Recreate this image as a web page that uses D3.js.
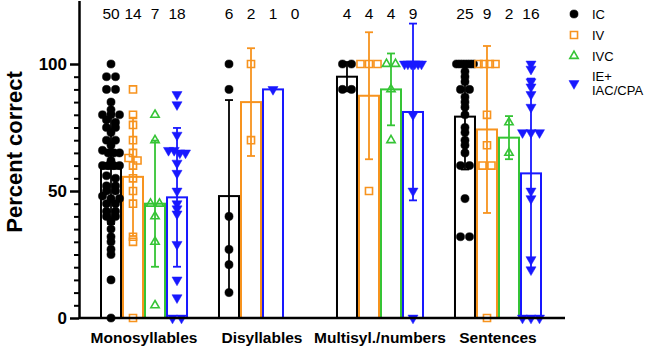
<!DOCTYPE html>
<html>
<head>
<meta charset="utf-8">
<script src="https://cdn.jsdelivr.net/npm/d3@7"></script>
<style>
  body { margin: 0; background: #fff; }
  text { font-family: Arial, "Liberation Sans", sans-serif; }
</style>
</head>
<body>
<div id="chart"></div>
<script>
// Data
var categories   = [ "Monosyllables", "Disyllables", "Multisyl./numbers", "Sentences" ];
var seriesNames  = [ "IC", "IV", "IVC", "IE+" ];
var legendLines  = [ ["IC"], ["IV"], ["IVC"], ["IE+", "IAC/CPA"] ];
var countLabels  = [ ["50","14","7","18"], ["6","2","1","0"], ["4","4","4","9"], ["25","9","2","16"] ];
var yTicks       = [ 0, 50, 100 ];

var icScores  = [
	[ 100, 95, 95, 90, 90, 85, 82, 80, 80, 80, 78, 77, 75, 75, 73, 70, 70, 68, 66, 65,
	  65, 65, 62, 60, 60, 60, 60, 56, 55, 52, 52, 50, 50, 48, 47, 47, 45, 45, 42, 42,
	  40, 40, 38, 35, 32, 30, 27, 25, 15, 0 ],
	[ 100, 90, 40, 27, 21, 10 ],
	[ 100, 100, 90, 90 ],
	[ 100, 100, 100, 100, 100, 100, 97, 95, 93, 90, 90, 87, 85, 83, 80, 75, 73, 70, 68, 65,
	  60, 60, 47, 32, 32 ]
];
var ivScores  = [
	[ 90, 80, 76, 70, 65, 63, 62, 60, 55, 50, 45, 32, 30, 0 ],
	[ 100, 70 ],
	[ 100, 100, 100, 50 ],
	[ 100, 100, 100, 100, 80, 68, 60, 60, 0 ]
];
var ivcScores = [
	[ 80, 70, 45, 45, 40, 30, 5 ],
	[],
	[ 100, 100, 90, 70 ],
	[ 77, 65 ]
];
var ieScores  = [
	[ 88, 84, 72, 66, 66, 65, 65, 61, 57, 50, 45, 43, 41, 29, 15, 8, 0, 0 ],
	[ 90 ],
	[ 100, 100, 100, 100, 100, 100, 80, 50, 0 ],
	[ 100, 98, 93, 91, 88, 83, 73, 73, 73, 50, 47, 23, 19, 0, 0, 0 ]
];
var allScores = [ icScores, ivScores, ivcScores, ieScores ];

var colors    = [ "#000000", "#f7931e", "#35c435", "#1818ff" ];

var chart_width  = 645;
var chart_height = 348;

// Scales
var y  = d3.scaleLinear().domain( [0, 125] ).range( [318, 0.5] );
var x0 = d3.scaleBand().domain( categories ).range( [101, 541] ).paddingInner( 0.271 ).paddingOuter( 0 );
var x1 = d3.scaleBand().domain( [0, 1, 2, 3] ).range( [0, x0.bandwidth()] ).paddingInner( 0.0909 );

// Symbols
var symbols = [
	{ type: d3.symbolCircle,   size: 52, fill: true,  rot: 0 },
	{ type: d3.symbolSquare,   size: 50, fill: false, rot: 0 },
	{ type: d3.symbolTriangle, size: 30, fill: false, rot: 0 },
	{ type: d3.symbolTriangle, size: 44, fill: true,  rot: 180 }
];

var svg = d3.select( "#chart" )
	.append( "svg" )
	.attr( "width", chart_width )
	.attr( "height", chart_height );

// Build bar records; empty series give up their slot
var bars = [];
categories.forEach( function( cat, ci ){
	var slot = 0;
	allScores.forEach( function( s, si ){
		var vals = s[ci];
		if ( !vals.length ) return;
		bars.push({
			cat: cat, series: si, slot: slot, vals: vals,
			mean: d3.mean( vals ),
			sd: vals.length > 1 ? d3.deviation( vals ) : 0
		});
		slot++;
	});
});

// Bars
svg.selectAll( "rect.bar" )
	.data( bars )
	.enter()
	.append( "rect" )
	.attr( "class", "bar" )
	.attr( "x", d => x0(d.cat) + x1(d.slot) )
	.attr( "y", d => y(d.mean) )
	.attr( "width", x1.bandwidth() )
	.attr( "height", d => y(0) - y(d.mean) )
	.attr( "fill", "white" )
	.attr( "stroke", d => colors[d.series] )
	.attr( "stroke-width", 2 );

// Error bars (SD)
var errs = svg.selectAll( "g.err" )
	.data( bars.filter( d => d.sd > 0 ) )
	.enter()
	.append( "g" )
	.attr( "class", "err" )
	.attr( "stroke", d => colors[d.series] )
	.attr( "stroke-width", 1.8 );
var cx = d => x0(d.cat) + x1(d.slot) + x1.bandwidth() / 2;
errs.append( "line" )
	.attr( "x1", cx ).attr( "x2", cx )
	.attr( "y1", d => y( d.mean + d.sd ) )
	.attr( "y2", d => y( Math.max( 0, d.mean - d.sd ) ) );
errs.append( "line" )
	.attr( "x1", d => cx(d) - 4 ).attr( "x2", d => cx(d) + 4 )
	.attr( "y1", d => y( d.mean + d.sd ) ).attr( "y2", d => y( d.mean + d.sd ) );
errs.append( "line" )
	.attr( "x1", d => cx(d) - 4 ).attr( "x2", d => cx(d) + 4 )
	.attr( "y1", d => y( d.mean - d.sd ) ).attr( "y2", d => y( d.mean - d.sd ) )
	.attr( "display", d => d.mean - d.sd > 0 ? null : "none" );

// Scatter points, spread sideways in rows like a column scatter
function spread( bar ){
	var pts = bar.vals.map( v => ({ v: v, py: y(v) }) ).sort( (a, b) => a.py - b.py );
	var rows = [], cur = [];
	pts.forEach( function( p ){
		if ( cur.length && p.py - cur[0].py > 5 ) { rows.push( cur ); cur = []; }
		cur.push( p );
	});
	if ( cur.length ) rows.push( cur );
	var c = cx( bar );
	rows.forEach( function( r ){
		var k = r.length;
		var step = k > 1 ? Math.min( 9, 17 / (k - 1) ) : 0;
		r.forEach( function( p, i ){ p.px = c + ( i - (k - 1) / 2 ) * step; p.series = bar.series; });
	});
	return pts;
}

var points = [];
bars.forEach( b => { points = points.concat( spread( b ) ); } );

svg.selectAll( "path.pt" )
	.data( points )
	.enter()
	.append( "path" )
	.attr( "class", "pt" )
	.attr( "d", d => d3.symbol().type( symbols[d.series].type ).size( symbols[d.series].size )() )
	.attr( "transform", d => "translate(" + d.px + "," + d.py + ") rotate(" + symbols[d.series].rot + ")" )
	.attr( "fill", d => symbols[d.series].fill ? colors[d.series] : "none" )
	.attr( "stroke", d => colors[d.series] )
	.attr( "stroke-width", d => symbols[d.series].fill ? 0.5 : 1.6 );

// Y axis
var yAxis = svg.append( "g" )
	.attr( "transform", "translate(79,0)" )
	.call( d3.axisLeft( y ).tickValues( yTicks ).tickSize( 9 ).tickSizeOuter( 0 ).tickPadding( 3 ) );
yAxis.select( ".domain" ).attr( "stroke-width", 2.5 );
yAxis.selectAll( ".tick line" ).attr( "stroke-width", 2.5 );
yAxis.selectAll( ".tick text" )
	.attr( "font-size", 17 ).attr( "font-weight", "bold" ).attr( "font-family", "Arial, 'Liberation Sans', sans-serif" )
	.attr( "fill", "#000" );

var minor = svg.append( "g" )
	.attr( "transform", "translate(79,0)" )
	.call( d3.axisLeft( y ).tickValues( d3.range( 5, 100, 5 ).filter( v => v !== 50 ) ).tickSize( 5 ).tickSizeOuter( 0 ).tickFormat( "" ) );
minor.select( ".domain" ).remove();
minor.selectAll( ".tick line" ).attr( "stroke-width", 2 );

// X axis line
svg.append( "line" )
	.attr( "x1", 79 ).attr( "x2", 565 )
	.attr( "y1", y(0) ).attr( "y2", y(0) )
	.attr( "stroke", "#000" ).attr( "stroke-width", 2.5 );

// Category labels
svg.selectAll( "text.cat" )
	.data( categories )
	.enter()
	.append( "text" )
	.attr( "class", "cat" )
	.attr( "x", d => x0(d) + x0.bandwidth() / 2 )
	.attr( "y", 343 )
	.attr( "text-anchor", "middle" )
	.attr( "font-size", 15.5 )
	.attr( "font-weight", "bold" )
	.text( d => d );

// n labels
categories.forEach( function( cat, ci ){
	svg.selectAll( null )
		.data( countLabels[ci] )
		.enter()
		.append( "text" )
		.attr( "x", (d, i) => x0(cat) + x1(i) + x1.bandwidth() / 2 )
		.attr( "y", 18.5 )
		.attr( "text-anchor", "middle" )
		.attr( "font-size", 15.5 )
		.text( d => d );
});

// Y title
svg.append( "text" )
	.attr( "transform", "translate(22,152) rotate(-90)" )
	.attr( "text-anchor", "middle" )
	.attr( "font-size", 22 )
	.attr( "font-weight", "bold" )
	.text( "Percent correct" );

// Legend
var legendY = [ 14, 35, 56, 83.5 ];
var legend = svg.selectAll( "g.legend" )
	.data( seriesNames )
	.enter()
	.append( "g" )
	.attr( "class", "legend" )
	.attr( "transform", (d, i) => "translate(574," + legendY[i] + ")" );
legend.append( "path" )
	.attr( "d", (d, i) => d3.symbol().type( symbols[i].type ).size( symbols[i].size )() )
	.attr( "transform", (d, i) => "rotate(" + symbols[i].rot + ")" )
	.attr( "fill", (d, i) => symbols[i].fill ? colors[i] : "none" )
	.attr( "stroke", (d, i) => colors[i] )
	.attr( "stroke-width", (d, i) => symbols[i].fill ? 0.5 : 1.6 );
legend.each( function( d, i ){
	var lines = legendLines[i];
	var g = d3.select( this );
	lines.forEach( function( t, j ){
		g.append( "text" )
			.attr( "x", 18 )
			.attr( "y", ( j - (lines.length - 1) / 2 ) * 13.5 + 4.5 )
			.attr( "font-size", 13 )
			.text( t );
	});
});
</script>
</body>
</html>
